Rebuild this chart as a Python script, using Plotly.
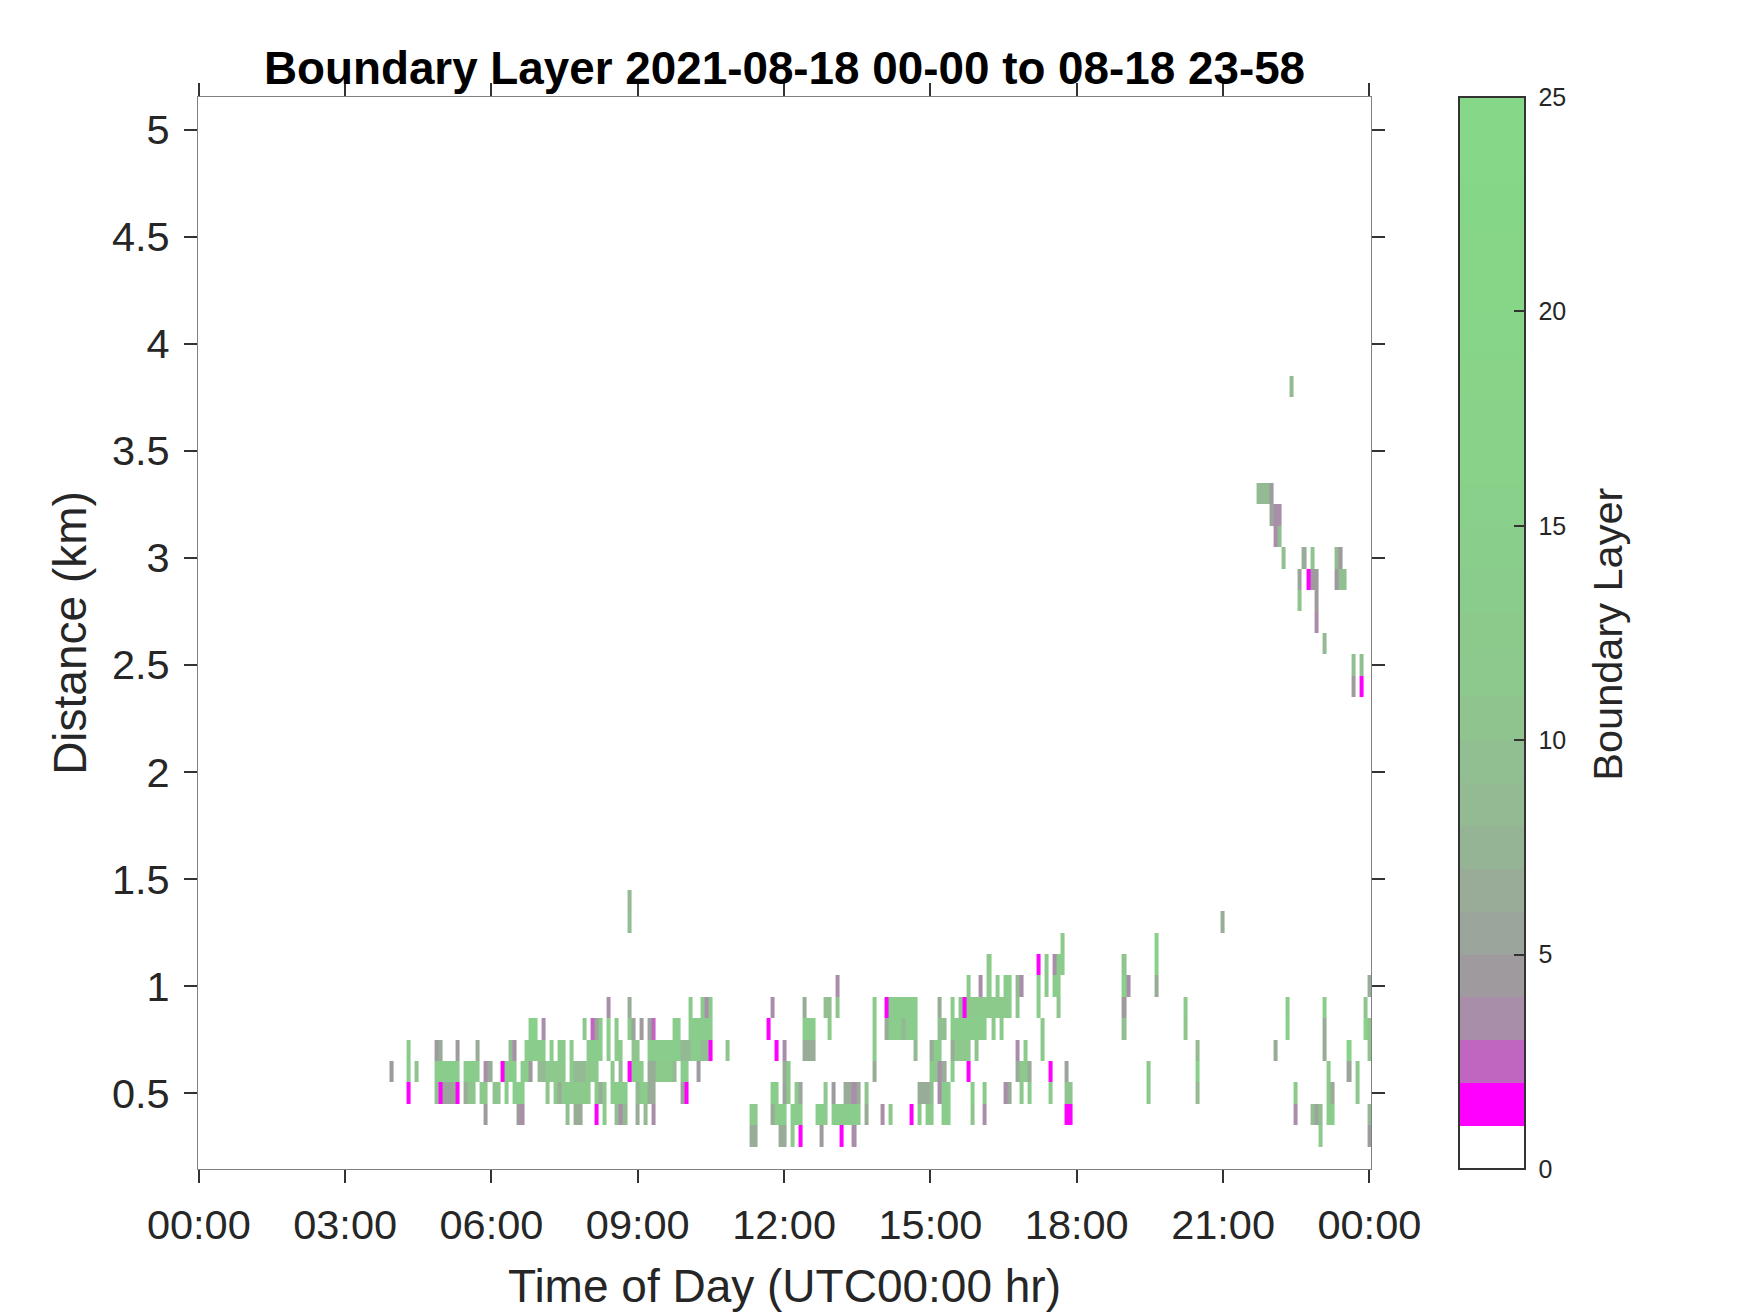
import plotly.graph_objects as go

# Each row: (start minute of day, end minute of day, Boundary Layer value)
row_0_3 = [(677.6,687.4,7),(713.3,723.1,6),(728,732.9,11),(737.9,742.8,1.5),(763.7,768.6,4),(788.3,793.2,1.5),(803.1,809.2,3.8),
           (1377.6,1382.5,11),(1437.9,1443,4)]
row_0_4 = [(350.2,355.1,4),(390.8,395.7,4),(395.7,400.7,3),(451.1,456,9),(461,472,6),(486.8,491.7,1.5),(496.6,501.6,12),(511.4,516.3,9),
           (516.3,521.2,3),(521.2,527.4,8),(537.2,542.2,6),(547.1,552,8),(556.9,561.8,3),
           (677.6,687.4,11),(703.4,708.3,7),(708.3,723.1,13),(728,742.8,14),(758.8,773.5,14),(778.5,814.1,14),(819,824,7),(838.7,843.7,3),
           (848.6,853.5,11),(874.4,879.3,1.7),(884.3,889.2,12),(894.1,903.9,12),(913.8,924.9,13),(949.5,954.4,10),(964.2,969.1,3),(1065.1,1075,1.5),
           (1346.9,1351.8,3),(1367.8,1372.7,9),(1372.7,1377.6,5.5),(1377.6,1382.5,9),(1387.5,1397.3,14),(1437.9,1443,8)]
row_0_5 = [(255.5,260.4,1.5),(289.9,294.9,10),(294.9,299.8,1.5),(299.8,310.9,5.5),(310.9,315.8,7),(315.8,320.7,1.5),(325.6,330.5,6),(330.5,340.4,10),
           (345.3,355.1,12),(361.3,371.1,10),(376,381,14),(385.9,400.7,13),(426.5,431.4,10),(436.3,441.3,12),(441.3,446.2,7),(446.2,481.9,12),
           (486.8,491.7,12),(491.7,496.6,6),(496.6,501.6,12),(506.5,527.4,13),(537.2,542.2,8),(542.2,552,13),(552,561.8,7),(592.6,597.5,5),(597.5,602.4,1.5),
           (703.4,713.3,13),(718.2,723.1,5.5),(723.1,728,12),(732.9,737.9,11),(737.9,742.8,5),(768.6,773.5,11),(778.5,783.4,4),(793.2,803.1,7),
           (803.1,809.2,3),(809.2,814.1,6),(819,824,10),(884.3,899,6.5),(899,903.9,8),(908.9,913.8,3.3),(913.8,924.9,13),(949.5,954.4,13),(964.2,969.1,12),
           (990.1,995,3.8),(995,999.9,6),(1009.8,1014.7,11),(1019.6,1024.5,13),(1045.4,1050.4,14),(1065.1,1075,10),
           (1166,1170.9,11),(1226.3,1231.2,8),(1346.9,1351.8,12),(1387.5,1392.4,12),(1392.4,1397.3,7),(1423.1,1428,11)]
row_0_6 = [(234.6,239.5,4.5),(255.5,260.4,13),(265.3,270.2,10),(289.9,320.7,14),(325.6,345.3,13),(350.2,355.1,3.2),(355.1,361.3,7),(371.1,376,1.5),
           (376,390.8,13),(395.7,405.6,13),(405.6,410.5,4),(416.7,426.5,8),(426.5,451.1,11),(456,461,13),(461,475.7,8),(475.7,491.7,11),(506.5,511.4,11),
           (516.3,521.2,8),(527.4,532.3,1.5),(532.3,547.1,13),(552,561.8,7),(561.8,582.8,12),(582.8,587.7,8),(592.6,602.4,14),(612.3,617.2,4),
           (718.2,723.1,6),(723.1,728,12),(828.9,833.8,6),(899,908.9,11),(908.9,913.8,3),(913.8,919.9,7),(924.9,929.8,13),(944.5,949.5,1.5),
           (1004.8,1009.8,6),(1009.8,1019.6,11),(1019.6,1024.5,6),(1045.4,1050.4,1.5),(1065.1,1070,5.5),
           (1166,1170.9,11),(1226.3,1231.2,15),(1387.5,1392.4,12),(1412,1418.2,5.5),(1423.1,1428,11)]
row_0_7 = [(255.5,260.4,12),(289.9,294.9,4),(294.9,299.8,6),(315.8,320.7,4),(340.4,345.3,7),(381,385.9,9),(385.9,390.8,3),(400.7,426.5,14),
           (431.4,436.3,13),(441.3,451.1,12),(456,461,12),(477,496.6,13),(501.6,506.5,12),(511.4,521.2,12),(532.3,542.2,10),(552,592.6,13),
           (592.6,604.9,8),(604.9,617.2,13),(617.2,627,9),(627,632,1.5),(648,652.9,10),
           (708.3,713.3,1.5),(718.2,723.1,3),(742.8,758.8,7),(828.9,833.8,13),(879.3,884.3,8),(899,903.9,7),(903.9,913.8,13),(924.9,929.8,6),
           (929.8,949.5,11),(954.4,959.3,10),(1004.8,1009.8,3),(1014.7,1019.6,12),(1035.6,1040.5,11),
           (1226.3,1231.2,8),(1322.2,1327.2,6),(1382.5,1387.5,7),(1412,1418.2,16),(1437.9,1443,10)]
row_0_8 = [(405.6,416.7,15),(421.6,426.5,3.5),(472,477,11),(481.9,486.8,2.5),(486.8,491.7,5),(491.7,496.6,12),(501.6,506.5,15),(511.4,516.3,12),
           (527.4,532.3,12),(532.3,537.2,5.5),(542.2,547.1,4),(552,556.9,5.5),(556.9,561.8,2.6),(582.8,592.6,13),(602.4,632,13),
           (698.5,703.4,1.5),(742.8,758.8,14),(773.5,778.5,12),(828.9,833.8,14),(843.7,848.6,6),(848.6,864.6,13),(864.6,869.5,8),(869.5,884.3,13),
           (908.9,919.9,9),(924.9,969.1,13),(975.3,980.2,12),(985.1,990.1,12),(1035.6,1040.5,11),
           (1135.2,1141.4,9),(1211.5,1216.4,10),(1337,1341.9,15),(1382.5,1387.5,7),(1433,1437.9,16),(1437.9,1443,10)]
row_0_9 = [(501.6,506.5,3.5),(527.4,532.3,6),(602.4,607.4,12),(617.2,622.1,12),(622.1,627,3.5),(627,632,12),
           (703.4,708.3,3),(742.8,747.7,7),(768.6,778.5,9),(783.4,788.3,10),(828.9,833.8,14),(843.7,848.6,1.5),(848.6,884.3,13),(908.9,913.8,6),
           (924.9,929.8,13),(934.7,939.6,11),(939.6,944.5,1.5),(944.5,999.9,12),(1004.8,1009.8,10),(1030.7,1035.6,13),(1055.3,1060.2,10),
           (1135.2,1141.4,4),(1211.5,1216.4,12),(1337,1341.9,13),(1382.5,1387.5,14),(1433,1437.9,10)]
row_1_0 = [(783.4,788.3,3),(944.5,949.5,11),(959.3,964.2,3),(969.1,975.3,13),(980.2,985.1,12),(990.1,999.9,13),(1004.8,1009.8,8),(1009.8,1014.7,3),
           (1030.7,1035.6,13),(1040.5,1045.4,12),(1050.4,1060.2,14),
           (1135.2,1141.4,15),(1141.4,1146.3,3),(1175.8,1180.8,6),(1437.9,1443,7)]
row_1_1 = [(969.1,975.3,12),(1030.7,1035.6,1.5),(1040.5,1045.4,12),(1050.4,1055.3,3),(1055.3,1065.1,14),(1135.2,1141.4,10),(1175.8,1180.8,15)]
row_1_2 = [(1060.2,1065.1,11),(1175.8,1180.8,15)]
row_1_3 = [(527.4,532,9),(1257,1262,7)]
row_1_4 = [(527.4,532,8)]
row_2_4 = [(1418.2,1423.1,4),(1428,1432.9,1.5)]
row_2_5 = [(1418.2,1423.1,9),(1428,1432.9,9)]
row_2_6 = [(1382.5,1387.4,8)]
row_2_7 = [(1372.6,1377.6,3)]
row_2_8 = [(1351.7,1356.7,10),(1372.6,1377.6,4)]
row_2_9 = [(1351.7,1356.7,5),(1362.8,1367.7,1.5),(1367.7,1377.6,4),(1397.3,1402.2,4),(1402.2,1412,9)]
row_3_0 = [(1332,1337,9),(1356.7,1362.8,7),(1367.7,1372.6,10),(1397.3,1402.2,8),(1402.2,1407.1,4)]
row_3_1 = [(1322.2,1327.1,3),(1327.1,1332,9)]
row_3_2 = [(1317.3,1322.2,5.5),(1322.2,1327.1,3),(1327.1,1332,3.5)]
row_3_3 = [(1301.3,1317.3,8),(1317.3,1322.2,4)]
row_3_8 = [(1341.9,1346.8,8)]

range_rows = {3: row_0_3, 4: row_0_4, 5: row_0_5, 6: row_0_6, 7: row_0_7, 8: row_0_8, 9: row_0_9,
              10: row_1_0, 11: row_1_1, 12: row_1_2, 13: row_1_3, 14: row_1_4,
              24: row_2_4, 25: row_2_5, 26: row_2_6, 27: row_2_7, 28: row_2_8, 29: row_2_9,
              30: row_3_0, 31: row_3_1, 32: row_3_2, 33: row_3_3, 38: row_3_8}

level_colors = ["#FFFFFF", "#FF00FF", "#C065C0", "#A98EA9", "#9E9A9E", "#9CA59C", "#98AC98", "#95B495",
                "#93BA93", "#91BF91", "#8FC48F", "#8DC88D", "#8BCA8B", "#8ACC8B", "#89CE8A", "#89D08A",
                "#88D289", "#88D389", "#87D488", "#87D588", "#87D688", "#87D688", "#86D687", "#86D787", "#86D787"]

x_tick_minutes = [0, 180, 360, 540, 720, 900, 1080, 1260, 1440]
x_tick_labels = ["00:00", "03:00", "06:00", "09:00", "12:00", "15:00", "18:00", "21:00", "00:00"]
y_tick_values = [0.5, 1, 1.5, 2, 2.5, 3, 3.5, 4, 4.5, 5]
y_tick_labels = ["0.5", "1", "1.5", "2", "2.5", "3", "3.5", "4", "4.5", "5"]
cbar_ticks = [0, 5, 10, 15, 20, 25]

title_text = "Boundary Layer 2021-08-18 00-00 to 08-18 23-58"

# Assemble the z matrix on the union of all cell edges
edges = sorted({t for bars in range_rows.values() for s, e, _ in bars for t in (s, e)})
edge_index = {t: i for i, t in enumerate(edges)}
first_row, last_row = 3, 38
y_edges = [(k - 0.5) / 10 for k in range(first_row, last_row + 2)]
z = [[None] * (len(edges) - 1) for _ in range(first_row, last_row + 1)]
for k, bars in range_rows.items():
    for s, e, v in bars:
        for i in range(edge_index[s], edge_index[e]):
            z[k - first_row][i] = v

n = len(level_colors)
colorscale = []
for i, c in enumerate(level_colors):
    colorscale += [[i / n, c], [(i + 1) / n, c]]

W, H = 1750, 1313
L, R, T, B = 197.5, 1371, 97, 1169.5

fig = go.Figure(go.Heatmap(
    x=edges, y=y_edges, z=z, zmin=0, zmax=25, zsmooth=False, colorscale=colorscale,
    hoverongaps=False,
    colorbar=dict(
        x=(1459.5 - L) / (R - L), xanchor="left", xpad=0, ypad=0, y=0.5, yanchor="middle",
        len=1, lenmode="fraction", thickness=66, thicknessmode="pixels",
        outlinecolor="#333333", outlinewidth=2, borderwidth=0,
        tickmode="array", tickvals=cbar_ticks, ticktext=["\u00a0" + str(t) for t in cbar_ticks],
        ticks="inside", ticklen=12, tickwidth=2, tickcolor="#333333",
        tickfont=dict(family="Liberation Sans", size=25, color="#262626"),
    ),
))

axis_common = dict(showgrid=False, zeroline=False, showline=True, linecolor="#808080", linewidth=1,
                   mirror="ticks", ticks="outside", ticklen=13, tickwidth=2, tickcolor="#333333",
                   tickfont=dict(family="Liberation Sans", size=41.5, color="#262626"),
                   tickmode="array", automargin=False)

fig.update_layout(
    width=W, height=H, autosize=False,
    margin=dict(l=L, r=W - R, t=T, b=H - B, pad=0),
    paper_bgcolor="white", plot_bgcolor="white",
    title=dict(text=title_text, x=0.5, xref="paper", xanchor="center", y=1 - 68 / H, yref="container", yanchor="middle",
               font=dict(family="Liberation Sans", size=45.8, color="black", weight="bold")),
    xaxis=dict(range=[-1, 1442], tickvals=x_tick_minutes, ticktext=x_tick_labels, ticklabelstandoff=6,
               title=dict(text="Time of Day (UTC00:00 hr)", standoff=23,
                          font=dict(family="Liberation Sans", size=46, color="#262626")),
               **axis_common),
    yaxis=dict(range=[0.1455, 5.153], tickvals=y_tick_values, ticktext=y_tick_labels, ticklabelstandoff=6,
               title=dict(text="Distance (km)", standoff=10,
                          font=dict(family="Liberation Sans", size=46, color="#262626")),
               **axis_common),
    annotations=[dict(text="Boundary Layer", textangle=-90, xref="paper", yref="paper",
                      x=(1608 - L) / (R - L), y=1 - (634 - T) / (B - T), xanchor="center", yanchor="middle",
                      showarrow=False, font=dict(family="Liberation Sans", size=41.5, color="#262626"))],
)

fig.write_html("out.html", config={"displayModeBar": False},
               post_script="document.body.style.margin='0';document.body.style.overflow='hidden';")
